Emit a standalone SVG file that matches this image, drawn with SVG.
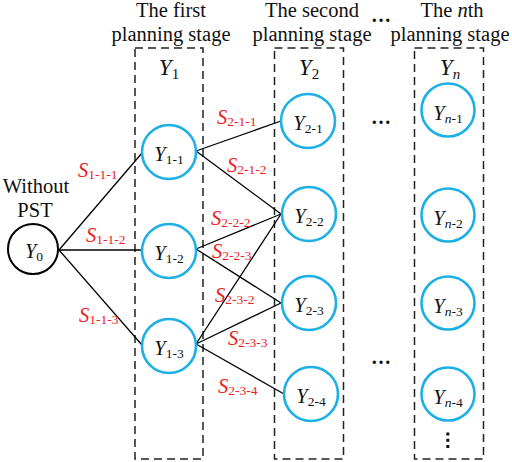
<svg xmlns="http://www.w3.org/2000/svg" width="512" height="462" viewBox="0 0 512 462">
<style>
.t{font-family:"Liberation Serif","Times New Roman",serif;font-size:20.5px;fill:#111}
.i{font-style:italic}
.ti{font-family:"Liberation Serif","Times New Roman",serif;font-size:23px;font-style:italic;fill:#111}
.ts{font-size:15px}
.lbl{font-family:"Liberation Serif","Times New Roman",serif;font-size:20.5px;fill:#ee1c24;font-style:italic}
.sub{font-size:13.5px;font-style:normal}
.nd{fill:#fff;stroke:#1cb0e6;stroke-width:2.6}
.box{fill:none;stroke:#222;stroke-width:1.5;stroke-dasharray:8 5}
.e{stroke:#000;stroke-width:1.3;fill:none}
.dots{font-family:"Liberation Serif","Times New Roman",serif;font-size:20px;font-weight:bold;fill:#111}
</style>
<g id="stages">
<rect class="box" x="135" y="48" width="68" height="411"/>
<rect class="box" x="274.5" y="48" width="69" height="411"/>
<rect class="box" x="414.5" y="48" width="69" height="411"/>
<text class="t" x="171" y="17" text-anchor="middle">The first</text>
<text class="t" x="171" y="41" text-anchor="middle">planning stage</text>
<text class="t" x="312" y="17" text-anchor="middle">The second</text>
<text class="t" x="312" y="41" text-anchor="middle">planning stage</text>
<text class="t" x="452" y="17" text-anchor="middle">The <tspan class="i">n</tspan>th</text>
<text class="t" x="450" y="41" text-anchor="middle">planning stage</text>
<text class="ti" x="169" y="75" text-anchor="middle">Y<tspan class="ts" dy="4" font-style="normal">1</tspan></text>
<text class="ti" x="309" y="75" text-anchor="middle">Y<tspan class="ts" dy="4" font-style="normal">2</tspan></text>
<text class="ti" x="450" y="75" text-anchor="middle">Y<tspan class="ts" dy="4">n</tspan></text>
<text class="dots" x="381" y="22" text-anchor="middle">…</text>
<text class="dots" x="381" y="124" text-anchor="middle">…</text>
<text class="dots" x="381" y="364" text-anchor="middle">…</text>
<g fill="#111"><rect x="446.3" y="432.5" width="3" height="3"/><rect x="446.3" y="438.8" width="3" height="3"/><rect x="446.3" y="445" width="3" height="3"/></g>
</g>
<g id="connectors">
<line class="e" x1="59" y1="250" x2="142" y2="153"/>
<line class="e" x1="59" y1="250" x2="142" y2="250"/>
<line class="e" x1="59" y1="250" x2="142" y2="345"/>
<line class="e" x1="196" y1="151" x2="281" y2="121"/>
<line class="e" x1="196" y1="151" x2="281" y2="214"/>
<line class="e" x1="196" y1="249" x2="281" y2="214"/>
<line class="e" x1="196" y1="249" x2="281" y2="303"/>
<line class="e" x1="196" y1="344" x2="281" y2="214"/>
<line class="e" x1="196" y1="344" x2="281" y2="303"/>
<line class="e" x1="196" y1="344" x2="284" y2="394"/>
</g>
<g id="edge-labels">
<text class="lbl" x="78" y="177">S<tspan class="sub" dy="2">1-1-1</tspan></text>
<text class="lbl" x="86" y="242">S<tspan class="sub" dy="2">1-1-2</tspan></text>
<text class="lbl" x="79" y="322">S<tspan class="sub" dy="2">1-1-3</tspan></text>
<text class="lbl" x="217" y="124">S<tspan class="sub" dy="2">2-1-1</tspan></text>
<text class="lbl" x="227" y="172">S<tspan class="sub" dy="2">2-1-2</tspan></text>
<text class="lbl" x="211" y="225">S<tspan class="sub" dy="2">2-2-2</tspan></text>
<text class="lbl" x="212" y="258">S<tspan class="sub" dy="2">2-2-3</tspan></text>
<text class="lbl" x="215" y="302">S<tspan class="sub" dy="2">2-3-2</tspan></text>
<text class="lbl" x="228" y="345">S<tspan class="sub" dy="2">2-3-3</tspan></text>
<text class="lbl" x="218" y="393">S<tspan class="sub" dy="2">2-3-4</tspan></text>
</g>
<g id="Y0">
<text class="t" x="36" y="193" text-anchor="middle">Without</text>
<text class="t" x="35" y="217" text-anchor="middle">PST</text>
<circle cx="33" cy="249" r="25" fill="#fff" stroke="#000" stroke-width="2"/>
<text class="t i" x="34" y="258" text-anchor="middle">Y<tspan class="sub" dy="3">0</tspan></text>
</g>
<g id="Y1-1"><circle class="nd" cx="169" cy="152" r="27"/><text class="t i" x="169" y="161" text-anchor="middle">Y<tspan class="sub" dy="3">1-1</tspan></text></g>
<g id="Y1-2"><circle class="nd" cx="169" cy="251" r="27"/><text class="t i" x="169" y="260" text-anchor="middle">Y<tspan class="sub" dy="3">1-2</tspan></text></g>
<g id="Y1-3"><circle class="nd" cx="169" cy="346" r="27"/><text class="t i" x="169" y="355" text-anchor="middle">Y<tspan class="sub" dy="3">1-3</tspan></text></g>
<g id="Y2-1"><circle class="nd" cx="308" cy="121" r="27"/><text class="t i" x="308" y="130" text-anchor="middle">Y<tspan class="sub" dy="3">2-1</tspan></text></g>
<g id="Y2-2"><circle class="nd" cx="309" cy="214" r="27"/><text class="t i" x="309" y="223" text-anchor="middle">Y<tspan class="sub" dy="3">2-2</tspan></text></g>
<g id="Y2-3"><circle class="nd" cx="309" cy="303" r="27"/><text class="t i" x="309" y="312" text-anchor="middle">Y<tspan class="sub" dy="3">2-3</tspan></text></g>
<g id="Y2-4"><circle class="nd" cx="311" cy="394" r="27"/><text class="t i" x="311" y="403" text-anchor="middle">Y<tspan class="sub" dy="3">2-4</tspan></text></g>
<g id="Yn-1"><circle class="nd" cx="448" cy="110" r="26.5"/><text class="t i" x="448" y="120" text-anchor="middle">Y<tspan class="sub" dy="3"><tspan font-style="italic">n</tspan>-1</tspan></text></g>
<g id="Yn-2"><circle class="nd" cx="448" cy="215" r="26.5"/><text class="t i" x="448" y="225" text-anchor="middle">Y<tspan class="sub" dy="3"><tspan font-style="italic">n</tspan>-2</tspan></text></g>
<g id="Yn-3"><circle class="nd" cx="448" cy="303" r="26.5"/><text class="t i" x="448" y="313" text-anchor="middle">Y<tspan class="sub" dy="3"><tspan font-style="italic">n</tspan>-3</tspan></text></g>
<g id="Yn-4"><circle class="nd" cx="448" cy="394" r="26.5"/><text class="t i" x="448" y="404" text-anchor="middle">Y<tspan class="sub" dy="3"><tspan font-style="italic">n</tspan>-4</tspan></text></g>
</svg>
